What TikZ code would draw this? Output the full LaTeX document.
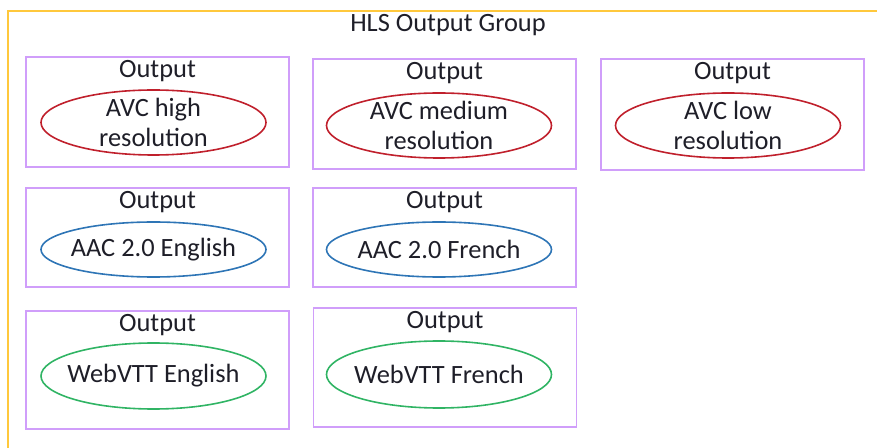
\documentclass[tikz,border=0pt]{standalone}
\usepackage{fontspec}
\setmainfont{Carlito}
\usetikzlibrary{positioning,shapes.geometric}
\definecolor{groupgold}{RGB}{255,200,60}
\definecolor{outpurple}{RGB}{208,158,250}
\definecolor{videored}{RGB}{192,32,44}
\definecolor{audioblue}{RGB}{46,117,182}
\definecolor{captiongreen}{RGB}{48,180,100}
\definecolor{textdark}{RGB}{30,30,40}

\begin{document}
\begin{tikzpicture}[x=0.5pt,y=-0.5pt,
    every node/.style={text=textdark},
    outbox/.style={draw=outpurple,line width=0.8pt,inner sep=0pt,minimum width=131.5pt},
    stream/.style={ellipse,line width=0.8pt,inner sep=0pt,minimum width=112.5pt},
    lbl/.style={inner sep=0pt,align=center,font=\fontsize{13.2}{15}\selectfont}]
    \useasboundingbox (0,0) rectangle (877,448);
    % group frame
    \draw[groupgold,line width=1pt] (877,11) -- (7.5,11) -- (7.5,448);
    \node[lbl] (group) at (448,25) {HLS Output Group};
    % video outputs
    \node[outbox,minimum height=55pt] (avchi) at (157.5,112) {};
    \node[lbl,below=2pt of avchi.north] (avchilbl) {Output};
    \node[stream,draw=videored,minimum height=32.5pt] (avchiell) at (153.5,122.5) {};
    \node[lbl] (avchitxt) at (avchiell) {AVC high\\resolution};
    \node[outbox,minimum height=55pt] (avcmed) at (444.5,114) {};
    \node[lbl,below=2pt of avcmed.north] (avcmedlbl) {Output};
    \node[stream,draw=videored,minimum height=32.5pt] (avcmedell) at (439,125.5) {};
    \node[lbl] (avcmedtxt) at (avcmedell) {AVC medium\\resolution};
    \node[outbox,minimum height=55.5pt] (avclo) at (732.5,114.5) {};
    \node[lbl,below=2pt of avclo.north] (avclolbl) {Output};
    \node[stream,draw=videored,minimum height=32.5pt] (avcloell) at (728,125.5) {};
    \node[lbl] (avclotxt) at (avcloell) {AVC low\\resolution};
    % audio outputs
    \node[outbox,minimum height=49.5pt] (aacen) at (157.5,237.5) {};
    \node[lbl,below=2pt of aacen.north] (aacenlbl) {Output};
    \node[stream,draw=audioblue,minimum height=27.5pt] (aacenell) at (153.5,249.5) {};
    \node[lbl] (aacentxt) at (aacenell) {AAC 2.0 English};
    \node[outbox,minimum height=49.5pt] (aacfr) at (444.5,237.5) {};
    \node[lbl,below=2pt of aacfr.north] (aacfrlbl) {Output};
    \node[stream,draw=audioblue,minimum height=27.5pt] (aacfrell) at (439,249.5) {};
    \node[lbl] (aacfrtxt) at (aacfrell) {AAC 2.0 French};
    % caption outputs
    \node[outbox,minimum height=59pt] (vtten) at (157.5,370) {};
    \node[lbl,below=2pt of vtten.north] (vttenlbl) {Output};
    \node[stream,draw=captiongreen,minimum height=33pt] (vttenell) at (153.5,376) {};
    \node[lbl] (vttentxt) at (vttenell) {WebVTT English};
    \node[outbox,minimum height=59.5pt] (vttfr) at (445,367.5) {};
    \node[lbl,below=2pt of vttfr.north] (vttfrlbl) {Output};
    \node[stream,draw=captiongreen,minimum height=33.5pt] (vttfrell) at (439,374.5) {};
    \node[lbl] (vttfrtxt) at (vttfrell) {WebVTT French};
\end{tikzpicture}
\end{document}
